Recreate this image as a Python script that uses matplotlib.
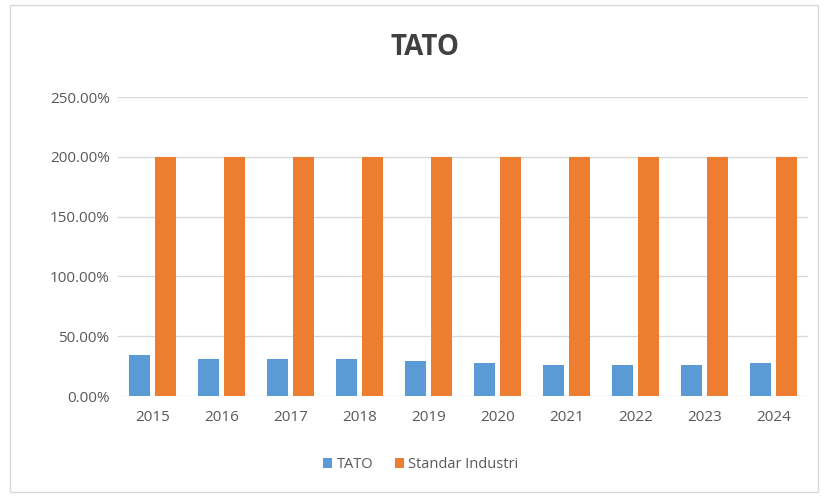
import matplotlib.pyplot as plt
import numpy as np
from matplotlib.patches import Rectangle
from matplotlib.ticker import FuncFormatter

years = ['2015', '2016', '2017', '2018', '2019', '2020', '2021', '2022', '2023', '2024']
tato = [34.3, 30.7, 31.2, 31.2, 29.0, 27.3, 26.0, 26.0, 26.0, 27.9]
standar = [200, 200, 200, 200, 200, 200, 200, 200, 200, 200]

plt.rcParams['font.family'] = ['Open Sans', 'DejaVu Sans']

fig = plt.figure(figsize=(8.25, 4.97), dpi=100)
ax = fig.add_axes([0.1430, 0.2032, 0.8364, 0.6016])

x = np.arange(len(years))
w = 0.31
ax.bar(x - 0.19, tato, w, color='#5B9BD5', label='TATO', zorder=3)
ax.bar(x + 0.19, standar, w, color='#ED7D31', label='Standar Industri', zorder=3)

ax.set_xlim(-0.5, len(years) - 0.5)
ax.set_ylim(0, 250)
ax.set_yticks([0, 50, 100, 150, 200, 250])
ax.yaxis.set_major_formatter(FuncFormatter(lambda v, p: '%.2f%%' % v))
ax.set_xticks(x)
ax.set_xticklabels(years)
ax.grid(axis='y', color='#D9D9D9', linewidth=1, zorder=0)
for s in ax.spines.values():
    s.set_visible(False)
ax.tick_params(length=0, labelsize=11, labelcolor='#595959', pad=10)
ax.tick_params(axis='y', pad=6)

fig.text(0.515, 0.905, 'TATO', ha='center', va='center', fontsize=20, fontweight='bold', color='#404040')
fig.legend(loc='center', bbox_to_anchor=(0.51, 0.065), ncol=2, frameon=False,
           fontsize=10.5, handlelength=0.6, handleheight=0.6, handletextpad=0.3,
           columnspacing=1.5, labelcolor='#595959')

fig.patches.append(Rectangle((0.012, 0.01), 0.98, 0.98, transform=fig.transFigure,
                             fill=False, edgecolor='#D9D9D9', linewidth=1))

fig.savefig('out.png', dpi=100)
